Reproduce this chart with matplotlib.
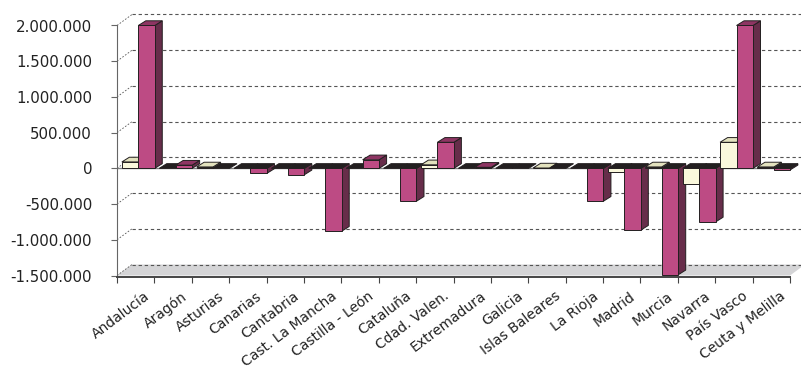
import matplotlib
matplotlib.use('Agg')
import matplotlib.pyplot as plt
from matplotlib.patches import Polygon

#-------Datos-------#

regiones = ['Andalucía', 'Aragón', 'Asturias', 'Canarias', 'Cantabria',
            'Cast. La Mancha', 'Castilla - León', 'Cataluña', 'Cdad. Valen.',
            'Extremadura', 'Galicia', 'Islas Baleares', 'La Rioja', 'Madrid',
            'Murcia', 'Navarra', 'País Vasco', 'Ceuta y Melilla']

serie_crema = [90000, 0, 20000, 0, 0, 0, 0, 0, 50000,
               0, 0, 5000, 0, -55000, 20000, -225000, 365000, 20000]

serie_magenta = [2000000, 45000, 0, -70000, -90000, -880000, 120000, -460000, 365000,
                 15000, 0, 0, -460000, -865000, -1490000, -750000, 2000000, -20000]

yticks = [-1500000, -1000000, -500000, 0, 500000, 1000000, 1500000, 2000000]
ytick_labels = ['-1.500.000', '-1.000.000', '-500.000', '0', '500.000',
                '1.000.000', '1.500.000', '2.000.000']

#-------Geometría (pixeles)-------#

W, H = 801, 372
px_x0, px_x1 = 117, 805          # bordes del eje en pixeles
px_top, px_bot = 5, 277
cat_px = (790 - 117) / 18        # ancho de una categoría
val_px = 250 / 3.5e6             # pixeles por unidad de valor
y_top = 2000000 + (25.5 - px_top) / val_px
y_bot = -1500000 - (px_bot - 275.5) / val_px

def dx(px):
    return px / cat_px

def dy(px):
    return px / val_px

fig = plt.figure(figsize=(W / 100, H / 100), dpi=100)
ax = fig.add_axes([px_x0 / W, 1 - px_bot / H, (px_x1 - px_x0) / W, (px_bot - px_top) / H])
ax.set_xlim(0, (px_x1 - px_x0) / cat_px)
ax.set_ylim(y_bot, y_top)

n = len(regiones)
wall_x, wall_y = dx(15), dy(11)
bar_x, bar_y = dx(7.5), dy(4.7)
edge = '#231F20'
grid_col = '#555555'

# piso gris
piso = -1500000
ax.add_patch(Polygon([(0, piso), (n, piso), (n + wall_x, piso + wall_y), (wall_x, piso + wall_y)],
                     closed=True, facecolor='#D4D4D6', edgecolor='none', zorder=0.5))

# lineas de la pared del fondo
for t in yticks:
    ax.plot([wall_x, n + wall_x], [t + wall_y, t + wall_y], color=grid_col, lw=0.8,
            linestyle=(0, (3, 2.5)), zorder=0.6)
    ax.plot([0, wall_x], [t, t + wall_y], color=grid_col, lw=0.6,
            linestyle=(0, (2, 2)), zorder=0.6)

# linea de cero
ax.plot([0, n], [0, 0], color='#808080', lw=1.0, zorder=0.7)

def barra(x0, w, v, c_front, c_top, c_side, z):
    if v != 0:
        ax.bar(x0, v, w, align='edge', color=c_front, edgecolor=edge, linewidth=0.7, zorder=z + 0.002)
    lo, hi = min(0, v), max(0, v)
    if v != 0:
        ax.add_patch(Polygon([(x0 + w, lo), (x0 + w, hi), (x0 + w + bar_x, hi + bar_y),
                              (x0 + w + bar_x, lo + bar_y)], closed=True,
                             facecolor=c_side, edgecolor=edge, linewidth=0.7, zorder=z))
    c = c_top if v > 0 else edge
    ax.add_patch(Polygon([(x0, hi), (x0 + w, hi), (x0 + w + bar_x, hi + bar_y), (x0 + bar_x, hi + bar_y)],
                         closed=True, facecolor=c, edgecolor=edge, linewidth=0.7, zorder=z + 0.001))

ancho = 0.44
for i in range(n):
    barra(i + 0.13, ancho, serie_crema[i], '#FAF8DC', '#E3E2BE', '#C9C7A0', 2 + i * 0.1)
    barra(i + 0.57, ancho, serie_magenta[i], '#BD4B84', '#8E3563', '#672D4A', 2 + i * 0.1 + 0.05)

# ejes
for s in ['top', 'right']:
    ax.spines[s].set_visible(False)
ax.spines['left'].set_bounds(-1500000, 2000000)
ax.spines['left'].set_color('#666666')
ax.spines['bottom'].set_bounds(0, n)
ax.spines['bottom'].set_color('#444444')
ax.spines['bottom'].set_linewidth(1.4)

ax.set_yticks(yticks)
ax.set_yticklabels(ytick_labels, fontsize=10.8, color='#222222')
ax.tick_params(axis='y', direction='out', length=4, pad=14, color='#666666')
ax.set_xticks(range(n + 1))
ax.set_xticklabels([])
ax.tick_params(axis='x', direction='out', length=4, color='#444444')

for i, r in enumerate(regiones):
    ax.text(i + 0.5 + dx(8), y_bot - dy(12), r, rotation=37, rotation_mode='anchor',
            ha='right', va='top', fontsize=10, color='#222222', clip_on=False)

fig.savefig('out.png', dpi=100)
